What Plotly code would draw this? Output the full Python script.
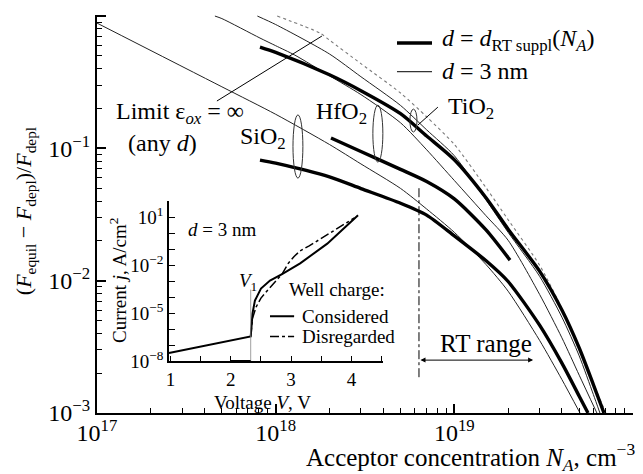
import math
import plotly.graph_objects as go

SERIF = "Liberation Serif"

# ---------------- main chart: N_A (cm^-3) vs (F_equil - F_depl)/F_depl ----------------
sio2_thin_N = [1e17, 5e17, 1e18, 2e18, 3e18, 5e18, 7e18, 1e19, 1.5e19, 2e19, 3e19, 4e19, 5.05e19]
sio2_thin_F = [0.885, 0.292, 0.181, 0.107, 0.0763, 0.0498, 0.0348, 0.0232, 0.0133, 0.00833, 0.00354, 0.00179, 0.001]

sio2_thick_N = [8.17e17, 1e18, 2e18, 3e18, 5e18, 7e18, 1e19, 1.5e19, 2e19, 3e19, 4e19, 5e19, 5.6e19]
sio2_thick_F = [0.0816, 0.0773, 0.0609, 0.0497, 0.0385, 0.0313, 0.0218, 0.0142, 0.00986, 0.00461, 0.00238, 0.00134, 0.001]

hfo2_thin_N = [4.57e17, 5e17, 8.17e17, 1e18, 1.28e18, 2e18, 3e18, 5e18, 7e18, 1e19, 1.5e19, 2e19, 3e19, 4e19, 5e19, 6.28e19]
hfo2_thin_F = [1.0, 0.957, 0.682, 0.597, 0.507, 0.354, 0.255, 0.156, 0.0976, 0.0572, 0.0311, 0.0202, 0.00788, 0.0037, 0.00193, 0.001]

hfo2_thick_N = [2.04e18, 3e18, 5e18, 7e18, 1e19, 1.5e19, 2.05e19]
hfo2_thick_F = [0.1197, 0.0946, 0.0694, 0.0562, 0.0415, 0.0243, 0.0143]

tio2_thin_N = [7.9e17, 1e18, 2e18, 3e18, 5e18, 7e18, 1e19, 1.5e19, 2e19, 3e19, 4e19, 5e19, 6e19, 6.53e19]
tio2_thin_F = [1.0, 0.863, 0.517, 0.348, 0.211, 0.138, 0.088, 0.041, 0.0232, 0.0108, 0.0053, 0.0027, 0.00138, 0.001]

tio2_thick_N = [8.17e17, 1e18, 2e18, 3e18, 5e18, 7e18, 1e19, 1.5e19, 2e19, 3e19, 4e19, 5e19, 6e19, 6.88e19]
tio2_thick_F = [0.583, 0.532, 0.36, 0.273, 0.183, 0.124, 0.082, 0.0425, 0.0245, 0.0118, 0.006, 0.0031, 0.00164, 0.001]

limit_N = [1.02e18, 1.77e18, 2e18, 3e18, 5e18, 7e18, 1e19, 1.5e19, 2e19, 3e19, 4e19, 5e19, 6e19, 7.05e19]
limit_F = [1.0, 0.744, 0.658, 0.437, 0.262, 0.173, 0.107, 0.0507, 0.0289, 0.0131, 0.00615, 0.00301, 0.00167, 0.001]

rt_start_N = 6.34e18          # dash-dot boundary of the RT range
rt_line_F = [0.05, 0.00184]
rt_end_N = 2.76e19
rt_arrow_F = 0.00251

# ---------------- inset: voltage V (V) vs current j (A/cm^2) ----------------
v_considered = [0.975, 2.33, 2.34, 2.36, 2.40, 2.50, 2.65, 2.85, 3.15, 3.35, 3.6, 3.85, 4.11]
j_considered = [3.4e-8, 3.6e-7, 1.0e-6, 1.0e-5, 6.3e-5, 3.5e-4, 1.1e-3, 2.8e-3, 1.3e-2, 4.5e-2, 0.22, 1.6, 13.0]

v_disregarded = [2.33, 2.36, 2.42, 2.5, 2.6, 2.75, 2.85, 2.95, 3.05, 3.15, 3.3, 3.6, 3.85, 4.05]
j_disregarded = [3.6e-7, 5.0e-6, 2.5e-5, 8.9e-5, 2.5e-4, 1.0e-3, 2.8e-3, 1.26e-2, 3.5e-2, 7.9e-2, 0.16, 0.79, 3.2, 8.9]

v1_value = 2.33
v_floor = [2.0, 2.33]
j_floor = [1e-8, 1e-8]

main_x_ticks = [1e17, 1e18, 1e19, 1e20]
main_x_text = ["10<sup>17</sup>", "10<sup>18</sup>", "10<sup>19</sup>", "10<sup>20</sup>"]
main_y_ticks = [1e-3, 1e-2, 1e-1, 1e0]
main_y_text = ["10<sup>\u22123</sup>", "10<sup>\u22122</sup>", "10<sup>\u22121</sup>", "10<sup>0</sup>"]
inset_x_ticks = [1, 2, 3, 4]
inset_x_minor = [1.5, 2.5, 3.5, 4.5]
inset_y_exp = list(range(-8, 2))
inset_y_labeled = {1: "10<sup>1</sup>", -2: "10<sup>\u22122</sup>", -5: "10<sup>\u22125</sup>", -8: "10<sup>\u22128</sup>"}

minor_x = [m * 10.0 ** e for e in (17, 18, 19) for m in range(2, 10)]
minor_y = [m * 10.0 ** e for e in (-3, -2, -1) for m in range(2, 10)]

fig = go.Figure()


def add(x, y, width, dash="solid", color="black", xa="x", ya="y", shape="spline"):
    fig.add_trace(go.Scatter(
        x=x, y=y, mode="lines", xaxis=xa, yaxis=ya, showlegend=False, hoverinfo="skip",
        line=dict(width=width, dash=dash, color=color, shape=shape, smoothing=0.7)))


THIN, THICK = 1.0, 3.4
add(limit_N, limit_F, 1.1, dash="dot", color="#7a7a7a")
add(sio2_thin_N, sio2_thin_F, THIN, color="#222")
add(hfo2_thin_N, hfo2_thin_F, THIN, color="#222")
add(tio2_thin_N, tio2_thin_F, THIN, color="#222")
add(sio2_thick_N, sio2_thick_F, THICK)
add(hfo2_thick_N, hfo2_thick_F, THICK)
add(tio2_thick_N, tio2_thick_F, THICK)
add([rt_start_N, rt_start_N], rt_line_F, 1.0, dash="dashdot", shape="linear")

# pointer lines for labels
add([4.69e17, 1.815e18], [0.228, 0.706], 1.0, shape="linear")
add([6.25e18, 8.09e18], [0.150, 0.205], 1.0, shape="linear")

# inset curves
add(v_disregarded, j_disregarded, 1.5, dash="dashdot", xa="x2", ya="y2", shape="linear")
add(v_considered, j_considered, 2.0, xa="x2", ya="y2", shape="linear")
add([v1_value, v1_value], [3e-4, 1e-8], 0.8, color="#888", xa="x2", ya="y2", shape="linear")
add(v_floor, j_floor, 3.0, xa="x2", ya="y2", shape="linear")
# inset legend keys
add([2.65, 3.05], [6.5e-6, 6.5e-6], 2.0, xa="x2", ya="y2", shape="linear")
add([2.65, 3.05], [3.6e-7, 3.6e-7], 1.5, dash="dashdot", xa="x2", ya="y2", shape="linear")

# ellipses around curve pairs
ellipses = [
    (1.25e18, 1.42e18, 0.0596, 0.179),
    (3.50e18, 3.98e18, 0.0788, 0.212),
    (5.64e18, 6.18e18, 0.133, 0.198),
]
shapes = []
for x0, x1, y0, y1 in ellipses:
    shapes.append(dict(type="circle", xref="x", yref="y", x0=x0, x1=x1, y0=y0, y1=y1,
                       line=dict(color="#333", width=1)))

# custom legend (top right)
shapes.append(dict(type="line", xref="paper", yref="paper", x0=0.5597, x1=0.625, y0=0.9296, y1=0.9296,
                   line=dict(color="black", width=3.4)))
shapes.append(dict(type="line", xref="paper", yref="paper", x0=0.5597, x1=0.625, y0=0.8575, y1=0.8575,
                   line=dict(color="black", width=1.0)))

L = math.log10
ann = []


def text(x, y, s, size=24, xref="x", yref="y", xanchor="center", yanchor="middle", angle=0, logx=True, logy=True):
    ann.append(dict(x=L(x) if (logx and xref in ("x",)) else x,
                    y=L(y) if (logy and yref in ("y", "y2")) else y,
                    xref=xref, yref=yref, text=s, showarrow=False, xanchor=xanchor, yanchor=yanchor,
                    textangle=angle, font=dict(family=SERIF, size=size, color="black")))


text(8.5e17, 0.120, "SiO<sub>2</sub>")
text(2.35e18, 0.185, "HfO<sub>2</sub>")
text(1.24e19, 0.2016, "TiO<sub>2</sub>")
text(2.91e17, 0.185, "Limit \u03b5<sub><i>ox</i></sub> = \u221e")
text(2.34e17, 0.1096, "(any <i>d</i>)")
text(1.50e19, 0.00338, "RT range", size=25)

# legend texts
text(0.640, 0.936, "<i>d</i> = <i>d</i><sub>RT suppl</sub>(<i>N<sub>A</sub></i>)", xref="paper", yref="paper",
     xanchor="left")
text(0.640, 0.860, "<i>d</i> = 3 nm", xref="paper", yref="paper", xanchor="left")

# axis titles
text(1.0075, -0.1106, "Acceptor concentration <i>N<sub>A</sub></i>, cm<sup>\u22123</sup>", size=25,
     xref="paper", yref="paper", xanchor="right")
text(-0.134, 0.5075, "(<i>F</i><sub>equil</sub> \u2212 <i>F</i><sub>depl</sub>)/<i>F</i><sub>depl</sub>",
     size=22, xref="paper", yref="paper", angle=-90)

# inset texts
text(1.85, 10 ** 0.21, "<i>d</i> = 3 nm", size=19, xref="x2", yref="y2", logx=False)
text(2.28, 10 ** -3.07, "<i>V</i><sub>1</sub>", size=19, xref="x2", yref="y2", logx=False)
text(3.76, 10 ** -3.53, "Well charge:", size=19, xref="x2", yref="y2", logx=False)
text(3.15, 6.5e-6, "Considered", size=19, xref="x2", yref="y2", logx=False, xanchor="left")
text(3.15, 3.6e-7, "Disregarded", size=19, xref="x2", yref="y2", logx=False, xanchor="left")
text(0.308, 0.0276, "Voltage <i>V</i>, V", size=19, xref="paper", yref="paper")
text(0.039, 0.334, "Current <i>j</i>, A/cm<sup>2</sup>", size=19, xref="paper", yref="paper", angle=-90)

# RT range arrow
ann.append(dict(x=L(rt_end_N), y=L(rt_arrow_F), ax=L(rt_start_N), ay=L(rt_arrow_F), xref="x", yref="y",
                axref="x", ayref="y", text="", showarrow=True, arrowside="end+start", arrowhead=2,
                startarrowhead=2, arrowsize=1, startarrowsize=1, arrowwidth=1, arrowcolor="black"))

axis_common = dict(showline=True, linecolor="black", ticks="inside", tickcolor="black", showgrid=False,
                   zeroline=False, mirror=False)

fig.update_layout(
    width=643, height=474, margin=dict(l=97, r=10, t=15, b=61),
    paper_bgcolor="white", plot_bgcolor="white", showlegend=False,
    font=dict(family=SERIF, size=24, color="black"),
    xaxis=dict(type="log", range=[17, 20], linewidth=2, ticklen=9, tickwidth=1.5,
               tickvals=main_x_ticks, ticktext=main_x_text, tickfont=dict(size=24), ticklabelstandoff=-3,
               minor=dict(tickvals=minor_x, ticks="inside", ticklen=5, tickwidth=1.2, tickcolor="black",
                          showgrid=False),
               anchor="y", **axis_common),
    yaxis=dict(type="log", range=[-3, 0.008], linewidth=2, ticklen=9, tickwidth=1.5,
               tickvals=main_y_ticks, ticktext=main_y_text, tickfont=dict(size=24),
               minor=dict(tickvals=minor_y, ticks="inside", ticklen=5, tickwidth=1.2, tickcolor="black",
                          showgrid=False),
               anchor="x", **axis_common),
    xaxis2=dict(domain=[0.1343, 0.5336], range=[0.975, 4.524], anchor="y2", linewidth=1.5, ticklen=6,
                tickwidth=1.2, tickvals=inset_x_ticks, ticktext=[str(v) for v in inset_x_ticks],
                tickfont=dict(size=19),
                minor=dict(tickvals=inset_x_minor, ticks="inside", ticklen=6, tickwidth=1.2, tickcolor="black",
                           showgrid=False),
                **axis_common),
    yaxis2=dict(domain=[0.1294, 0.5327], type="log", range=[-8, 2], anchor="x2", linewidth=1.5, ticklen=6,
                tickwidth=1.2, tickvals=[10.0 ** e for e in inset_y_exp],
                ticktext=[inset_y_labeled.get(e, "") for e in inset_y_exp], tickfont=dict(size=19),
                **axis_common),
    shapes=shapes,
    annotations=ann,
)

fig.write_html("out.html")
